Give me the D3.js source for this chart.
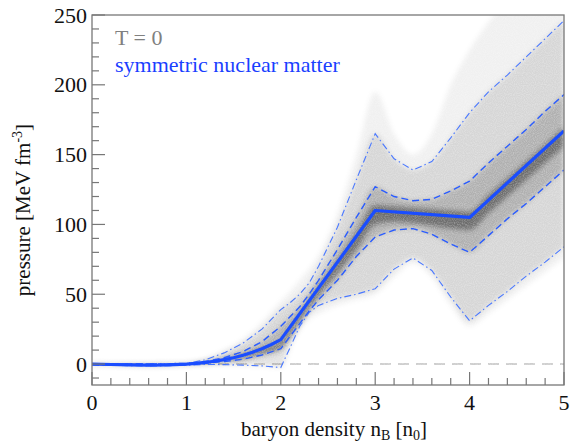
<!DOCTYPE html>
<html><head><meta charset="utf-8">
<script src="https://cdn.jsdelivr.net/npm/d3@7"></script>
<style>
html,body{margin:0;padding:0;background:#fff;}
svg{display:block;}
text{font-family:"Liberation Serif","Tinos","Times New Roman","DejaVu Serif",serif;}
</style></head>
<body>
<svg id="chart" width="570" height="445"></svg>
<script>
// ---- data ----
const density = [0,0.2,0.4,0.6,0.8,1.0,1.2,1.4,1.6,1.8,2.0,2.1,2.2,2.3,2.4,2.6,2.8,3.0,3.2,3.4,3.6,3.8,4.0,4.2,4.4,4.6,4.8,5.0];
const envelopeHi = [0.6,0.6,0.6,0.6,0.7,1.0,4,10,18,30,45,52,60,68,78,108,150,195,165,150,165,200,225,245,262,280,300,320];
const band95Hi   = [0.4,0.3,0.3,0.3,0.4,0.6,3,8,15,25,39,44,50,58,70,98,132,165,147,139,145,162,180,195,207,220,233,246];
const band68Hi   = [0.2,0.1,0.0,0.0,0.1,0.3,1.8,4.5,9,16,27,34,41,50,60,82,105,127,120,117,118,124,131,144,156,168,181,193];
const band68Lo   = [-0.4,-0.6,-0.9,-1.0,-0.8,-0.4,0.6,1.8,3.5,6.5,11,20,29,38,46,60,77,91,96,97,93,86,80,92,104,115,127,139];
const band95Lo   = [-0.5,-0.8,-1.2,-1.4,-1.2,-0.8,-0.3,-0.4,-0.8,-1.3,-2.5,12,27,37,42,47,50,54,68,76,67,48,31,42,52,63,73,84];
const envelopeLo = [-0.7,-1.0,-1.4,-1.6,-1.4,-1.0,-0.5,0.3,1.2,3.5,7,15,24,32,36,42,46,50,62,72,62,42,27,36,46,56,66,76];
const coreHi     = [0.1,-0.1,-0.3,-0.4,-0.2,0.2,1.5,3.6,6.8,11,16,26,36,46,56,74,94,114,113,112,111,110,109,121,133,145,157,170];
const coreLo     = [-0.3,-0.5,-0.8,-0.9,-0.7,-0.3,0.8,2.2,4.2,7.5,11.5,20,30,40,49,65,82,100,102,101,99,97,96,108,120,132,144,156];
const medianX    = [0,0.2,0.4,0.6,0.8,1.0,1.1,1.2,1.3,1.4,1.5,1.6,1.7,1.8,1.9,2.0,3.0,4.0,5.0];
const medianP    = [0,-0.3,-0.6,-0.8,-0.6,0,0.5,1.2,2.0,3.2,4.5,6.3,8.5,11,14,17.5,110,105,167];
const xTicks = [0,1,2,3,4,5];
const yTicks = [0,50,100,150,200,250];
const legendLines = ["T = 0","symmetric nuclear matter"];

// ---- layout ----
const FONT = '"Liberation Serif","Tinos","Times New Roman","DejaVu Serif",serif';
const svg = d3.select("#chart");
const L = 92, R = 564, T = 15, B = 385;
const x = d3.scaleLinear().domain([0,5]).range([L,R]);
const y = d3.scaleLinear().domain([-15,250]).range([B,T]);
const blue = "#1a4dff";

const defs = svg.append("defs");
defs.append("clipPath").attr("id","plotclip").append("rect")
  .attr("x",L).attr("y",T).attr("width",R-L).attr("height",B-T);
const blur = defs.append("filter").attr("id","soft").attr("x","-10%").attr("y","-10%").attr("width","120%").attr("height","120%");
blur.append("feGaussianBlur").attr("stdDeviation",2.5);

const grain = defs.append("filter").attr("id","grain").attr("filterUnits","userSpaceOnUse")
  .attr("x",L).attr("y",T).attr("width",R-L).attr("height",B-T);
grain.append("feTurbulence").attr("type","fractalNoise").attr("baseFrequency",0.9).attr("numOctaves",1).attr("seed",7).attr("result","noise");
grain.append("feColorMatrix").attr("in","noise").attr("type","matrix")
  .attr("values","0 0 0 0 1  0 0 0 0 1  0 0 0 0 1  1.2 0 0 0 -0.45").attr("result","speck");
grain.append("feComposite").attr("in","speck").attr("in2","SourceGraphic").attr("operator","in");

const band = (lo,hi) => d3.area().x((d,i)=>x(density[i])).y0((d,i)=>y(lo[i])).y1((d,i)=>y(hi[i])).curve(d3.curveMonotoneX)(density);

const g = svg.append("g").attr("clip-path","url(#plotclip)");

// zero reference line
g.append("line").attr("x1",x(0)).attr("x2",x(5)).attr("y1",y(0)).attr("y2",y(0))
  .attr("stroke","#bdbdbd").attr("stroke-width",1.6).attr("stroke-dasharray","11,7");

const cloud = g.append("g").attr("filter","url(#soft)");
cloud.append("path").attr("d",band(envelopeLo,envelopeHi)).attr("fill","#000").attr("fill-opacity",0.06);
cloud.append("path").attr("d",band(band95Lo,band95Hi)).attr("fill","#000").attr("fill-opacity",0.11);
cloud.append("path").attr("d",band(band68Lo,band68Hi)).attr("fill","#000").attr("fill-opacity",0.18);
cloud.append("path").attr("d",band(coreLo,coreHi)).attr("fill","#000").attr("fill-opacity",0.38);

// speckle overlay (white dots breaking the grey into a stipple)
g.append("rect").attr("x",L).attr("y",T).attr("width",R-L).attr("height",B-T)
  .attr("fill","#fff").attr("filter","url(#grain)").attr("opacity",0.55);

const line = (vals) => d3.line().x((d,i)=>x(density[i])).y((d,i)=>y(vals[i]))(density);
// 95% lines (dash-dot)
[band95Hi, band95Lo].forEach(v => g.append("path").attr("d",line(v)).attr("fill","none")
  .attr("stroke","#4a78ff").attr("stroke-width",1.1).attr("stroke-dasharray","7,3,1.5,3"));
// 68% lines (dashed)
[band68Hi, band68Lo].forEach(v => g.append("path").attr("d",line(v)).attr("fill","none")
  .attr("stroke","#2a5cff").attr("stroke-width",1.4).attr("stroke-dasharray","7,4"));
// median
g.append("path").attr("d",d3.line().x((d,i)=>x(medianX[i])).y((d,i)=>y(medianP[i]))(medianX))
  .attr("fill","none").attr("stroke",blue).attr("stroke-width",3.2).attr("stroke-linejoin","round");

// frame
svg.append("rect").attr("x",L).attr("y",T).attr("width",R-L).attr("height",B-T)
  .attr("fill","none").attr("stroke","#777").attr("stroke-width",1.3);

// axes
const xAxis = svg.append("g");
xAxis.selectAll("line").data(d3.range(0,5.0001,0.2)).enter().append("line")
  .attr("x1",d=>x(d)).attr("x2",d=>x(d)).attr("y1",B).attr("y2",d=>Math.abs(d-Math.round(d))<1e-6?B-13:B-7)
  .attr("stroke","#777").attr("stroke-width",1.2);
xAxis.selectAll("text").data(xTicks).enter().append("text")
  .attr("x",d=>x(d)).attr("y",410).attr("text-anchor","middle").attr("font-family",FONT).attr("font-size",22).attr("fill","#111").text(d=>d);

const yAxis = svg.append("g");
yAxis.selectAll("line").data(d3.range(-10,250.001,10)).enter().append("line")
  .attr("x1",L).attr("x2",d=>d%50===0?L+13:L+7).attr("y1",d=>y(d)).attr("y2",d=>y(d))
  .attr("stroke","#777").attr("stroke-width",1.2);
yAxis.selectAll("text").data(yTicks).enter().append("text")
  .attr("x",87).attr("y",d=>y(d)+7.5).attr("text-anchor","end").attr("font-family",FONT).attr("font-size",22).attr("fill","#111").text(d=>d);

// axis titles
const xt = svg.append("text").attr("x",(L+R)/2+6).attr("y",436).attr("text-anchor","middle")
  .attr("font-family",FONT).attr("font-size",21).attr("fill","#111");
xt.append("tspan").text("baryon density n");
xt.append("tspan").attr("font-size",14).attr("dy",4).text("B");
xt.append("tspan").attr("dy",-4).text(" [n");
xt.append("tspan").attr("font-size",14).attr("dy",4).text("0");
xt.append("tspan").attr("dy",-4).text("]");

const yt = svg.append("text").attr("transform","translate(30,"+((T+B)/2+10)+") rotate(-90)")
  .attr("text-anchor","middle").attr("font-family",FONT).attr("font-size",21).attr("fill","#111");
yt.append("tspan").text("pressure [MeV fm");
yt.append("tspan").attr("font-size",14).attr("dy",-8).text("-3");
yt.append("tspan").attr("dy",8).text("]");

// legend
svg.append("text").attr("x",115).attr("y",45).attr("font-family",FONT).attr("font-size",22).attr("fill","#808080").text(legendLines[0]);
svg.append("text").attr("x",115).attr("y",72).attr("font-family",FONT).attr("font-size",22).attr("fill","#1a3fff").text(legendLines[1]);
</script>
</body></html>
